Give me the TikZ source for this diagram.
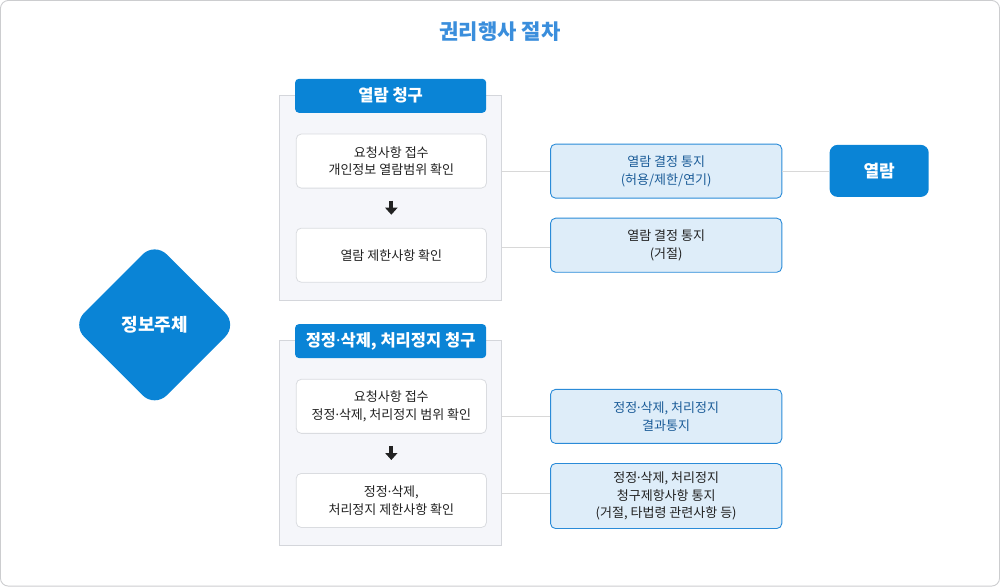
\documentclass[tikz,border=0pt]{standalone}
\usepackage{fontspec}
\setmainfont{Noto Sans CJK KR}
\newfontfamily\dotfont{Noto Sans}
\newcommand{\mdot}{{\dotfont ·}}
\usetikzlibrary{shapes.geometric,arrows.meta}
\definecolor{mainblue}{HTML}{0A84D6}
\definecolor{titleblue}{HTML}{3A8EDC}
\definecolor{lightbg}{HTML}{F5F6FA}
\definecolor{graybd}{HTML}{D4D6DB}
\definecolor{boxbd}{HTML}{DADCE0}
\definecolor{notefill}{HTML}{DEEDF9}
\definecolor{notebd}{HTML}{2A8BD8}
\definecolor{notetext}{HTML}{1B5C98}
\definecolor{txt}{HTML}{222222}
\definecolor{linec}{HTML}{D8D8D8}
\begin{document}
\begin{tikzpicture}[x=1pt,y=-1pt,
  container/.style={draw=graybd,fill=lightbg,line width=0.8pt,minimum width=222pt,minimum height=205pt,anchor=north west,inner sep=0pt},
  header/.style={fill=mainblue,rounded corners=4pt,minimum width=191pt,minimum height=34pt,text=white,font=\fontsize{16.5}{18}\selectfont\bfseries,inner sep=0pt,anchor=north west},
  stepbox/.style={draw=boxbd,fill=white,rounded corners=5pt,line width=0.8pt,minimum width=190pt,minimum height=54pt,align=center,font=\fontsize{13}{17.5}\selectfont,text=txt,inner sep=0pt,anchor=north west},
  notebox/.style={draw=notebd,fill=notefill,rounded corners=5pt,line width=0.9pt,minimum width=231pt,minimum height=54pt,align=center,font=\fontsize{13}{17.5}\selectfont,text=txt,inner sep=0pt,anchor=north west},
  conn/.style={draw=linec,line width=0.9pt},
  downarrow/.style={draw=txt,line width=4pt,-{Triangle[width=12pt,length=7pt]},shorten <=12pt,shorten >=13pt},
]
\node[draw=graybd!80!black!60,line width=0.9pt,rounded corners=8pt,minimum width=998pt,minimum height=585pt,anchor=north west,inner sep=0pt] (frame) at (0.5,0.5) {};
\node[text=titleblue,font=\fontsize{21}{23}\selectfont\bfseries] (title) at (500,32) {권리행사 절차};

% top group
\node[container] (c1) at (279,95) {};
\node[header] (h1) at (295,79) {열람 청구};
\node[stepbox] (b1) at (296,134) {요청사항 접수\\개인정보 열람범위 확인};
\node[stepbox] (b2) at (296,228) {열람 제한사항 확인};
\draw[downarrow] (b1.south) -- (b2.north);

\node[notebox,text=notetext] (n1) at (550,144) {열람 결정 통지\\(허용/제한/연기)};
\node[notebox,minimum height=54pt] (n2) at (550,218) {열람 결정 통지\\(거절)};
\node[fill=mainblue,rounded corners=8pt,minimum width=99pt,minimum height=52pt,text=white,font=\fontsize{17}{19}\selectfont\bfseries,inner sep=0pt,anchor=north west] (view) at (829,145) {열람};

\draw[conn] (c1.east |- n1.west) -- (n1.west);
\draw[conn] (c1.east |- 0,248) -- (n2.west |- 0,248);
\draw[conn] (n1.east) -- (view.west |- n1.east);

% diamond
\node[diamond,fill=mainblue,rounded corners=17pt,minimum width=165pt,minimum height=165pt,inner sep=0pt,text=white,font=\fontsize{18}{20}\selectfont\bfseries] (subj) at (155,325) {정보주체};

% bottom group
\node[container] (c2) at (279,340) {};
\node[header] (h2) at (295,324) {정정\mdot 삭제, 처리정지 청구};
\node[stepbox] (b3) at (296,379) {요청사항 접수\\ 정정\mdot 삭제, 처리정지 범위 확인};
\node[stepbox] (b4) at (296,473) {정정\mdot 삭제,\\처리정지 제한사항 확인};
\draw[downarrow] (b3.south) -- (b4.north);

\node[notebox,text=notetext] (n3) at (550,389) {정정\mdot 삭제, 처리정지\\결과통지};
\node[notebox,minimum height=65pt] (n4) at (550,463) {정정\mdot 삭제, 처리정지\\청구제항사항 통지\\(거절, 타법령 관련사항 등)};

\draw[conn] (c2.east |- n3.west) -- (n3.west);
\draw[conn] (c2.east |- 0,493) -- (n4.west |- 0,493);
\end{tikzpicture}
\end{document}
